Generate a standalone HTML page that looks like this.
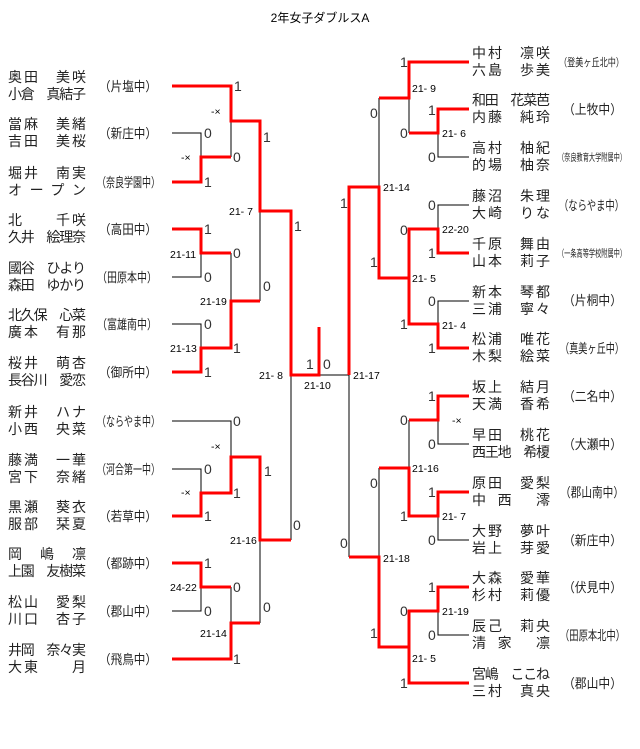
<!DOCTYPE html>
<html><head><meta charset="utf-8"><style>
html,body{margin:0;padding:0;background:#fff;}
svg{display:block;font-family:"Liberation Sans","Noto Sans CJK JP",sans-serif;}
.n{font-size:14px;fill:#222;}
.s{font-size:13px;fill:#222;}
.d{font-size:14px;fill:#333;}
.sc{font-size:10.5px;fill:#000;}
.r{stroke:#f00;stroke-width:3;fill:none;}
.b{stroke:#000;stroke-width:1;fill:none;}
</style></head><body>
<svg width="640" height="749" viewBox="0 0 640 749">
<text x="320" y="22" text-anchor="middle" font-size="12">2年女子ダブルスA</text>

<g class="n">
<text x="8" y="82" textLength="78" lengthAdjust="spacing">奥田　美咲</text><text x="8" y="99" textLength="78" lengthAdjust="spacing">小倉　真結子</text>
<text x="8" y="129" textLength="78" lengthAdjust="spacing">當麻　美緒</text><text x="8" y="146" textLength="78" lengthAdjust="spacing">吉田　美桜</text>
<text x="8" y="178" textLength="78" lengthAdjust="spacing">堀井　南実</text><text x="8" y="195" textLength="78" lengthAdjust="spacing">オープン</text>
<text x="8" y="225" textLength="78" lengthAdjust="spacing">北　　千咲</text><text x="8" y="242" textLength="78" lengthAdjust="spacing">久井　絵理奈</text>
<text x="8" y="273" textLength="78" lengthAdjust="spacing">國谷　ひより</text><text x="8" y="290" textLength="78" lengthAdjust="spacing">森田　ゆかり</text>
<text x="8" y="320" textLength="78" lengthAdjust="spacing">北久保　心菜</text><text x="8" y="337" textLength="78" lengthAdjust="spacing">廣本　有那</text>
<text x="8" y="368" textLength="78" lengthAdjust="spacing">桜井　萌杏</text><text x="8" y="385" textLength="78" lengthAdjust="spacing">長谷川　愛恋</text>
<text x="8" y="417" textLength="78" lengthAdjust="spacing">新井　ハナ</text><text x="8" y="434" textLength="78" lengthAdjust="spacing">小西　央菜</text>
<text x="8" y="465" textLength="78" lengthAdjust="spacing">藤満　一華</text><text x="8" y="482" textLength="78" lengthAdjust="spacing">宮下　奈緒</text>
<text x="8" y="512" textLength="78" lengthAdjust="spacing">黒瀬　葵衣</text><text x="8" y="529" textLength="78" lengthAdjust="spacing">服部　栞夏</text>
<text x="8" y="559" textLength="78" lengthAdjust="spacing">岡　嶋　凛</text><text x="8" y="576" textLength="78" lengthAdjust="spacing">上園　友樹菜</text>
<text x="8" y="607" textLength="78" lengthAdjust="spacing">松山　愛梨</text><text x="8" y="624" textLength="78" lengthAdjust="spacing">川口　杏子</text>
<text x="8" y="655" textLength="78" lengthAdjust="spacing">井岡　奈々実</text><text x="8" y="672" textLength="78" lengthAdjust="spacing">大東　　月</text>
</g>
<g class="s">
<text x="99" y="91" textLength="58" lengthAdjust="spacingAndGlyphs">（片塩中）</text>
<text x="99" y="138" textLength="58" lengthAdjust="spacingAndGlyphs">（新庄中）</text>
<text x="97" y="187" textLength="63" lengthAdjust="spacingAndGlyphs">（奈良学園中）</text>
<text x="99" y="234" textLength="58" lengthAdjust="spacingAndGlyphs">（高田中）</text>
<text x="97" y="282" textLength="60" lengthAdjust="spacingAndGlyphs">（田原本中）</text>
<text x="97" y="329" textLength="60" lengthAdjust="spacingAndGlyphs">（富雄南中）</text>
<text x="99" y="377" textLength="58" lengthAdjust="spacingAndGlyphs">（御所中）</text>
<text x="97" y="426" textLength="63" lengthAdjust="spacingAndGlyphs">（ならやま中）</text>
<text x="97" y="474" textLength="63" lengthAdjust="spacingAndGlyphs">（河合第一中）</text>
<text x="99" y="521" textLength="58" lengthAdjust="spacingAndGlyphs">（若草中）</text>
<text x="99" y="568" textLength="58" lengthAdjust="spacingAndGlyphs">（都跡中）</text>
<text x="99" y="616" textLength="58" lengthAdjust="spacingAndGlyphs">（郡山中）</text>
<text x="99" y="664" textLength="58" lengthAdjust="spacingAndGlyphs">（飛鳥中）</text>
</g>

<g class="n">
<text x="472" y="58" textLength="78" lengthAdjust="spacing">中村　凛咲</text><text x="472" y="75" textLength="78" lengthAdjust="spacing">六島　歩美</text>
<text x="472" y="105" textLength="78" lengthAdjust="spacing">和田　花菜芭</text><text x="472" y="122" textLength="78" lengthAdjust="spacing">内藤　純玲</text>
<text x="472" y="153" textLength="78" lengthAdjust="spacing">高村　柚紀</text><text x="472" y="170" textLength="78" lengthAdjust="spacing">的場　柚奈</text>
<text x="472" y="201" textLength="78" lengthAdjust="spacing">藤沼　朱理</text><text x="472" y="218" textLength="78" lengthAdjust="spacing">大崎　りな</text>
<text x="472" y="249" textLength="78" lengthAdjust="spacing">千原　舞由</text><text x="472" y="266" textLength="78" lengthAdjust="spacing">山本　莉子</text>
<text x="472" y="297" textLength="78" lengthAdjust="spacing">新本　琴都</text><text x="472" y="314" textLength="78" lengthAdjust="spacing">三浦　寧々</text>
<text x="472" y="344" textLength="78" lengthAdjust="spacing">松浦　唯花</text><text x="472" y="361" textLength="78" lengthAdjust="spacing">木梨　絵菜</text>
<text x="472" y="392" textLength="78" lengthAdjust="spacing">坂上　結月</text><text x="472" y="409" textLength="78" lengthAdjust="spacing">天満　香希</text>
<text x="472" y="440" textLength="78" lengthAdjust="spacing">早田　桃花</text><text x="472" y="457" textLength="78" lengthAdjust="spacing">西王地　希榎</text>
<text x="472" y="488" textLength="78" lengthAdjust="spacing">原田　愛梨</text><text x="472" y="505" textLength="78" lengthAdjust="spacing">中　西　　澪</text>
<text x="472" y="536" textLength="78" lengthAdjust="spacing">大野　夢叶</text><text x="472" y="553" textLength="78" lengthAdjust="spacing">岩上　芽愛</text>
<text x="472" y="583" textLength="78" lengthAdjust="spacing">大森　愛華</text><text x="472" y="600" textLength="78" lengthAdjust="spacing">杉村　莉優</text>
<text x="472" y="631" textLength="78" lengthAdjust="spacing">辰己　莉央</text><text x="472" y="648" textLength="78" lengthAdjust="spacing">清　家　　凛</text>
<text x="472" y="679" textLength="78" lengthAdjust="spacing">宮嶋　ここね</text><text x="472" y="696" textLength="78" lengthAdjust="spacing">三村　真央</text>
</g>
<g class="s">
<text x="559" y="66" textLength="65" lengthAdjust="spacingAndGlyphs" font-size="11">（登美ヶ丘北中）</text>
<text x="563" y="114" textLength="59" lengthAdjust="spacingAndGlyphs">（上牧中）</text>
<text x="558" y="161" textLength="68" lengthAdjust="spacingAndGlyphs" font-size="10">（奈良教育大学附属中）</text>
<text x="559" y="210" textLength="65" lengthAdjust="spacingAndGlyphs">（ならやま中）</text>
<text x="558" y="257" textLength="68" lengthAdjust="spacingAndGlyphs" font-size="10">（一条高等学校附属中）</text>
<text x="563" y="305" textLength="59" lengthAdjust="spacingAndGlyphs">（片桐中）</text>
<text x="560" y="353" textLength="64" lengthAdjust="spacingAndGlyphs">（真美ヶ丘中）</text>
<text x="563" y="401" textLength="59" lengthAdjust="spacingAndGlyphs">（二名中）</text>
<text x="563" y="449" textLength="59" lengthAdjust="spacingAndGlyphs">（大瀬中）</text>
<text x="560" y="497" textLength="64" lengthAdjust="spacingAndGlyphs">（郡山南中）</text>
<text x="563" y="545" textLength="59" lengthAdjust="spacingAndGlyphs">（新庄中）</text>
<text x="563" y="592" textLength="59" lengthAdjust="spacingAndGlyphs">（伏見中）</text>
<text x="560" y="640" textLength="65" lengthAdjust="spacingAndGlyphs">（田原本北中）</text>
<text x="563" y="688" textLength="59" lengthAdjust="spacingAndGlyphs">（郡山中）</text>
</g>

<g class="b">
<path d="M172 133H201V157"/><path d="M231 121V157"/>
<path d="M201 253V277H172"/><path d="M231 253V301"/>
<path d="M172 324H201V348"/><path d="M260 211V301"/>
<path d="M172 421H231V457"/><path d="M172 469H201V493"/>
<path d="M291 375V540"/><path d="M201 587V611H172"/><path d="M231 587V623"/><path d="M260 540V623"/>
<path d="M291 375H349"/>
</g>
<g class="b">
<path d="M409 98V133"/><path d="M438 133V157H469"/><path d="M379 98V187"/>
<path d="M469 205H438V229"/><path d="M469 301H438V324"/>
<path d="M409 420V468"/><path d="M438 420V444H469"/><path d="M438 516V540H469"/>
<path d="M379 468V557"/><path d="M349 375V557"/><path d="M438 611V635H469"/>
</g>
<g class="r">
<path d="M172 86H231V121H260V211H291V375H319V327"/>
<path d="M172 182H201V157H231"/>
<path d="M172 229H201V253H231"/>
<path d="M172 372H201V348H231V301H260"/>
<path d="M172 516H201V493H231V457H260V540H291"/>
<path d="M172 563H201V587H231"/>
<path d="M172 659H231V623H260"/>
<path d="M469 62H409V98H379"/>
<path d="M469 109H438V133H409"/>
<path d="M349 375V187H379V278H409"/>
<path d="M469 253H438V229H409V324H438V348H469"/>
<path d="M349 557H379V647H409V683H469"/>
<path d="M409 647V611H438V587H469"/>
<path d="M469 396H438V420H409"/>
<path d="M379 468H409V516H438V492H469"/>
</g>

<g class="d">
<text x="234" y="91">1</text><text x="204" y="138">0</text><text x="204" y="187">1</text><text x="233" y="162">0</text><text x="263" y="142">1</text>
<text x="204" y="234">1</text><text x="233" y="258">0</text><text x="204" y="282">0</text><text x="204" y="329">0</text><text x="233" y="353">1</text><text x="204" y="377">1</text><text x="263" y="291">0</text><text x="294" y="231">1</text>
<text x="233" y="426">0</text><text x="204" y="474">0</text><text x="233" y="498">1</text><text x="204" y="521">1</text><text x="264" y="476">1</text><text x="293" y="530">0</text>
<text x="204" y="568">1</text><text x="233" y="592">0</text><text x="204" y="616">0</text><text x="263" y="612">0</text><text x="233" y="664">1</text>
<text x="306" y="369">1</text><text x="323" y="369">0</text>
<text x="400" y="67">1</text><text x="428" y="115">1</text><text x="400" y="138">0</text><text x="428" y="162">0</text><text x="370" y="118">0</text><text x="340" y="208">1</text>
<text x="428" y="210">0</text><text x="400" y="235">0</text><text x="428" y="258">1</text><text x="370" y="267">1</text><text x="428" y="306">0</text><text x="400" y="329">1</text><text x="428" y="353">1</text>
<text x="428" y="401">1</text><text x="400" y="425">0</text><text x="428" y="449">0</text><text x="370" y="488">0</text><text x="428" y="497">1</text><text x="400" y="521">1</text><text x="428" y="545">0</text><text x="340" y="548">0</text>
<text x="428" y="592">1</text><text x="400" y="616">0</text><text x="428" y="640">0</text><text x="370" y="638">1</text><text x="400" y="688">1</text>
</g>
<g class="sc">
<text x="211" y="115">-×</text><text x="181" y="161">-×</text>
<text x="229" y="215">21- 7</text><text x="170" y="258">21-11</text><text x="200" y="305">21-19</text><text x="170" y="352">21-13</text>
<text x="259" y="379">21- 8</text><text x="304" y="389">21-10</text><text x="353" y="379">21-17</text>
<text x="211" y="450">-×</text><text x="181" y="496">-×</text><text x="230" y="544">21-16</text>
<text x="170" y="591">24-22</text><text x="200" y="637">21-14</text>
<text x="412" y="92">21- 9</text><text x="442" y="137">21- 6</text><text x="383" y="191">21-14</text><text x="442" y="233">22-20</text><text x="412" y="282">21- 5</text><text x="442" y="329">21- 4</text>
<text x="452" y="424">-×</text><text x="412" y="472">21-16</text><text x="442" y="520">21- 7</text><text x="383" y="562">21-18</text><text x="442" y="615">21-19</text><text x="412" y="662">21- 5</text>
</g>
</svg>
</body></html>
